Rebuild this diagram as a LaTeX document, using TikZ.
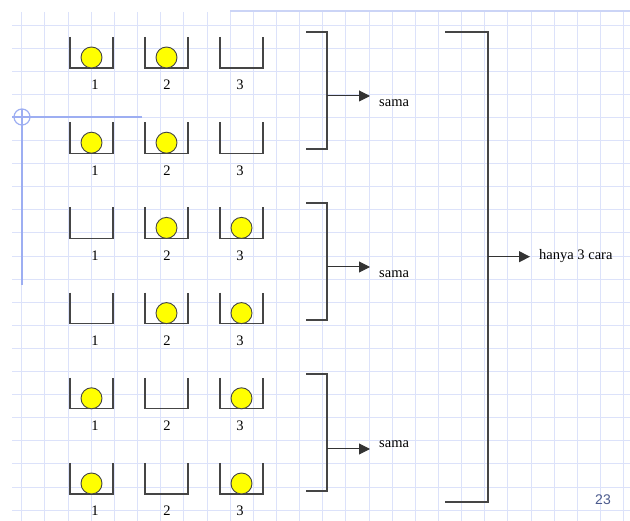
\documentclass[tikz,border=0pt]{standalone}
\usepackage{fontspec}
\setmainfont{Liberation Serif}
\newfontfamily\pagenumfont{Liberation Sans}
\usetikzlibrary{arrows.meta,positioning}
\definecolor{gridblue}{HTML}{DCE2FA}
\definecolor{guideblue}{HTML}{9DAEF2}
\definecolor{barblue}{HTML}{CBD4F6}
\definecolor{ballyellow}{HTML}{FFFF00}
\definecolor{cupgray}{HTML}{454545}
\definecolor{pagenum}{HTML}{4B5A8C}
\tikzset{
  cup/.style={draw=cupgray,line width=1.2pt},
  ball/.style={fill=ballyellow,draw=cupgray,line width=0.9pt},
  brace/.style={draw=cupgray,line width=1.2pt},
  arr/.style={-{Triangle[length=11pt,width=11pt]},line width=1pt,draw=black!80},
  txt/.style={font=\fontsize{14.5}{17}\selectfont,text=black,inner sep=0pt}
}
\begin{document}
\begin{tikzpicture}[x=1pt,y=-1pt]
  \useasboundingbox (0,0) rectangle (630,521);
  % squared paper
  \foreach \gx in {0,...,26} \draw[gridblue,line width=0.8pt] ({21.7+23.15*\gx},12)--({21.7+23.15*\gx},521);
  \foreach \gy in {0,...,21} \draw[gridblue,line width=0.8pt] (12,{25+23.1*\gy})--(630,{25+23.1*\gy});
  \draw[barblue,line width=2.5pt] (230,11)--(630,11);
  % guide mark
  \draw[guideblue,line width=1.2pt] (22,117) circle[radius=8pt];
  \draw[guideblue,line width=1.2pt] (12,117)--(142,117);\draw[guideblue,line width=1.2pt] (22,109)--(22,285);
  % cups, balls, numbers
  \foreach \row/\balls in {1/{1,2},2/{1,2},3/{2,3},4/{2,3},5/{1,3},6/{1,3}}{
    \pgfmathsetmacro{\ty}{37+85.2*(\row-1)}
    \foreach \col/\lx in {1/95,2/167,3/240}{
      \pgfmathsetmacro{\cx}{70+75*(\col-1)}
      \draw[cup] (\cx,\ty)--(\cx,\ty+31)--(\cx+43,\ty+31)--(\cx+43,\ty);
      \node[txt,anchor=base] (n-\row-\col) at (\lx,\ty+53) {\col};
    }
    \foreach \col in \balls{
      \pgfmathsetmacro{\bx}{91.5+75*(\col-1)}
      \draw[ball] (\bx,\ty+20.5) circle[radius=10.5pt];
    }
  }
  % brackets for the pairs
  \foreach \i/\top/\bot/\ay/\by in {1/32/149/96/107,2/203/320/267/278,3/374/491/449/448}{
    \draw[brace] (306,\top)-|(327,\bot)--(306,\bot);
    \coordinate (g\i) at (327,\ay);
    \node[txt,anchor=base west,inner xsep=9pt] (sama\i) at (370,\by) {sama};
    \draw[arr] (g\i)--(g\i -| sama\i.west);
  }
  % bracket for all
  \draw[brace] (445,32)-|(488,502)--(445,502);
  \coordinate (gall) at (488,256.7);
  \node[txt,anchor=base west,inner xsep=9pt] (cara) at (530,260) {hanya 3 cara};
  \draw[arr] (gall)--(gall -| cara.west);
  \node[font=\pagenumfont\fontsize{14}{16}\selectfont,text=pagenum] (pagenr) at (603,500) {23};
\end{tikzpicture}
\end{document}
